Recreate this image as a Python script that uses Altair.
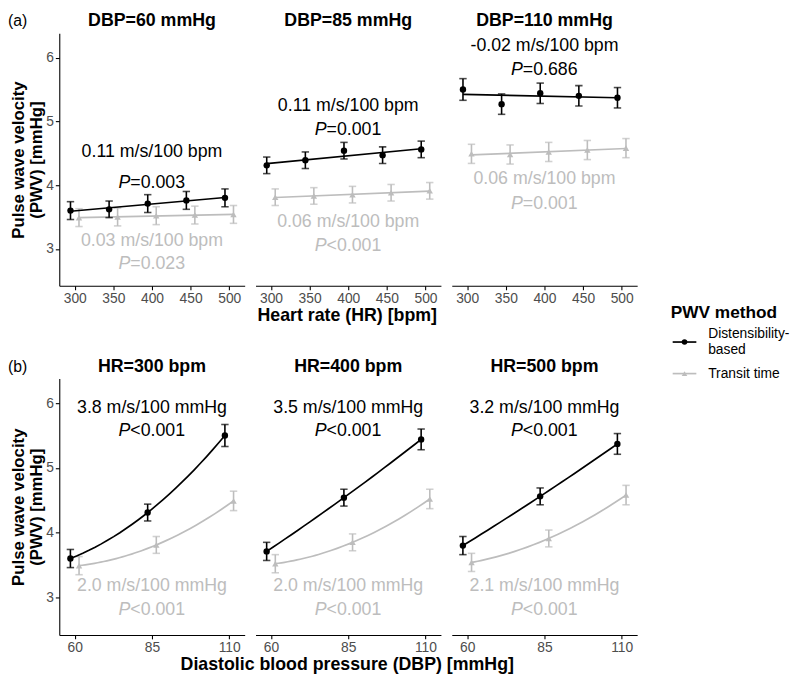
import altair as alt
import pandas as pd

HR = [300, 350, 400, 450, 500]
DBP = [60, 85, 110]
HR_PANELS = [300, 400, 500]
METHODS = ["Distensibility-based", "Transit time"]
COLORS = ["#000000", "#bdbdbd"]
SHAPES = ["circle", "triangle-up"]

# PWV means, rows = DBP (60, 85, 110), columns = HR (300..500)
dist_pwv = [[3.60, 3.62, 3.71, 3.76, 3.80],
            [4.31, 4.39, 4.54, 4.47, 4.56],
            [5.50, 5.27, 5.44, 5.40, 5.37]]
dist_err = [[0.14, 0.13, 0.14, 0.14, 0.14],
            [0.13, 0.13, 0.13, 0.13, 0.13],
            [0.17, 0.16, 0.16, 0.16, 0.16]]
tt_pwv = [[3.49, 3.50, 3.52, 3.53, 3.54],
          [3.81, 3.83, 3.85, 3.88, 3.91],
          [4.49, 4.48, 4.52, 4.55, 4.58]]
tt_err = [[0.14, 0.14, 0.14, 0.14, 0.14],
          [0.13, 0.13, 0.13, 0.13, 0.13],
          [0.15, 0.15, 0.15, 0.15, 0.15]]

# annotations, panel (a): one per DBP
a_dist_slope = ["0.11 m/s/100 bpm", "0.11 m/s/100 bpm", "-0.02 m/s/100 bpm"]
a_dist_p = ["=0.003", "=0.001", "=0.686"]
a_tt_slope = ["0.03 m/s/100 bpm", "0.06 m/s/100 bpm", "0.06 m/s/100 bpm"]
a_tt_p = ["=0.023", "<0.001", "=0.001"]
a_dist_y1 = [4.52, 5.24, 6.18]
a_dist_y2 = [4.03, 4.86, 5.80]
a_tt_y1 = [3.12, 3.42, 4.09]
a_tt_y2 = [2.76, 3.05, 3.71]
# annotations, panel (b): one per HR
b_dist_slope = ["3.8 m/s/100 mmHg", "3.5 m/s/100 mmHg", "3.2 m/s/100 mmHg"]
b_dist_p = ["<0.001", "<0.001", "<0.001"]
b_tt_slope = ["2.0 m/s/100 mmHg", "2.0 m/s/100 mmHg", "2.1 m/s/100 mmHg"]
b_tt_p = ["<0.001", "<0.001", "<0.001"]
b_dist_y1 = [5.92, 5.92, 5.92]
b_dist_y2 = [5.57, 5.57, 5.57]
b_tt_y1 = [3.18, 3.18, 3.18]
b_tt_y2 = [2.81, 2.81, 2.81]

FONT = "Liberation Sans"
ANN_SIZE = 18
TITLE_SIZE = 18

rows = []
for i, d in enumerate(DBP):
    for j, h in enumerate(HR):
        rows.append(dict(hr=h, dbp=d, method=METHODS[0], pwv=dist_pwv[i][j], err=dist_err[i][j]))
        rows.append(dict(hr=h, dbp=d, method=METHODS[1], pwv=tt_pwv[i][j], err=tt_err[i][j]))
df = pd.DataFrame(rows)

trows = []
for i, d in enumerate(DBP):
    trows.append(dict(row="a", key=d, method=METHODS[0], slope=a_dist_slope[i], p=a_dist_p[i], y1=a_dist_y1[i], y2=a_dist_y2[i], xc=400))
    trows.append(dict(row="a", key=d, method=METHODS[1], slope=a_tt_slope[i], p=a_tt_p[i], y1=a_tt_y1[i], y2=a_tt_y2[i], xc=400))
for i, h in enumerate(HR_PANELS):
    trows.append(dict(row="b", key=h, method=METHODS[0], slope=b_dist_slope[i], p=b_dist_p[i], y1=b_dist_y1[i], y2=b_dist_y2[i], xc=85))
    trows.append(dict(row="b", key=h, method=METHODS[1], slope=b_tt_slope[i], p=b_tt_p[i], y1=b_tt_y1[i], y2=b_tt_y2[i], xc=85))
tdf = pd.DataFrame(trows)

YSCALE = alt.Scale(domain=[2.42, 6.38], nice=False, zero=False)
W = 188


def panel(row, key, title, first, tag):
    if row == "a":
        xf, dodge, dom, ticks, h = "hr", 5.5, [280, 520], HR, 256
        filt = alt.datum.dbp == key
    else:
        xf, dodge, dom, ticks, h = "dbp", 1.4, [55, 115], DBP, 260
        filt = alt.datum.hr == key
    xaxis = alt.Axis(values=ticks, title=None, grid=False)
    yaxis = alt.Axis(values=[3, 4, 5, 6], grid=False,
                     title=["Pulse wave velocity", "(PWV) [mmHg]"]) if first else None
    xs = alt.Scale(domain=dom, nice=False, zero=False)

    base = alt.Chart(df).transform_filter(filt).transform_calculate(
        xd=f"datum.{xf} + (datum.method == 'Transit time' ? {dodge} : -{dodge})",
        lo="datum.pwv - datum.err",
        hi="datum.pwv + datum.err",
    )

    def X():
        return alt.X("xd:Q", scale=xs, axis=xaxis)

    def Y(f):
        return alt.Y(f + ":Q", scale=YSCALE, axis=yaxis)

    layers = []
    for m, c, s in [(METHODS[1], COLORS[1], SHAPES[1]), (METHODS[0], COLORS[0], SHAPES[0])]:
        b = base.transform_filter(alt.datum.method == m)
        if row == "a":
            reg = b.transform_regression(on="xd", regression="pwv", method="linear")
        else:
            reg = b.transform_regression(on="xd", regression="pwv", method="poly", order=2)
        layers.append(reg.mark_line(color=c, strokeWidth=1.7).encode(x=X(), y=Y("pwv")))
        layers.append(b.mark_rule(color=c, strokeWidth=1.6).encode(x=X(), y=Y("lo"), y2="hi:Q"))
        layers.append(b.mark_tick(color=c, orient="horizontal", size=7.5, thickness=1.6).encode(x=X(), y=Y("lo")))
        layers.append(b.mark_tick(color=c, orient="horizontal", size=7.5, thickness=1.6).encode(x=X(), y=Y("hi")))
        layers.append(b.mark_point(filled=True, shape=s, size=42, color=c, opacity=1).encode(x=X(), y=Y("pwv")))

    t = alt.Chart(tdf).transform_filter((alt.datum.row == row) & (alt.datum.key == key))
    tcol = alt.Color("method:N", scale=alt.Scale(domain=METHODS, range=COLORS), legend=None)
    layers.append(t.mark_text(fontSize=ANN_SIZE, font=FONT, baseline="middle", align="center").encode(
        x=alt.X("xc:Q", scale=xs, axis=xaxis), y=Y("y1"), text="slope:N", color=tcol))
    layers.append(t.mark_text(fontSize=ANN_SIZE, font=FONT, baseline="middle", align="right", dx=-22,
                              fontStyle="italic", text="P").encode(
        x=alt.X("xc:Q", scale=xs, axis=xaxis), y=Y("y2"), color=tcol))
    layers.append(t.mark_text(fontSize=ANN_SIZE, font=FONT, baseline="middle", align="left", dx=-22).encode(
        x=alt.X("xc:Q", scale=xs, axis=xaxis), y=Y("y2"), text="p:N", color=tcol))

    hdr = pd.DataFrame({"t": [title]})
    layers.append(alt.Chart(hdr).mark_text(
        fontSize=TITLE_SIZE, font=FONT, fontWeight="bold", align="center", baseline="middle",
        color="#000000").encode(x=alt.value(W / 2), y=alt.value(-12), text="t:N"))
    if tag:
        layers.append(alt.Chart(pd.DataFrame({"t": [tag]})).mark_text(
            fontSize=16, font=FONT, align="left", baseline="middle", color="#000000").encode(
            x=alt.value(-52), y=alt.value(-12), text="t:N"))

    return alt.layer(*layers).properties(width=W, height=h)


row_a = alt.hconcat(
    *[panel("a", d, f"DBP={d} mmHg", i == 0, "(a)" if i == 0 else None) for i, d in enumerate(DBP)],
    spacing=11,
    title=alt.TitleParams("Heart rate (HR) [bpm]", orient="bottom", anchor="middle", fontSize=TITLE_SIZE,
                          fontWeight="bold", font=FONT, color="#000000", offset=2, dx=25),
)
row_b = alt.hconcat(
    *[panel("b", h, f"HR={h} bpm", i == 0, "(b)" if i == 0 else None) for i, h in enumerate(HR_PANELS)],
    spacing=11,
    title=alt.TitleParams("Diastolic blood pressure (DBP) [mmHg]", orient="bottom", anchor="middle",
                          fontSize=TITLE_SIZE, fontWeight="bold", font=FONT, color="#000000", offset=2, dx=25),
)
main = alt.vconcat(row_a, row_b, spacing=33)

leg_df = pd.DataFrame({"method": METHODS, "label": ["Distensibility-\nbased", "Transit time"]})
ly = alt.Y("method:N", sort=METHODS, scale=alt.Scale(type="point", range=[15, 47], padding=0), axis=None)
lc = alt.Color("method:N", scale=alt.Scale(domain=METHODS, range=COLORS), legend=None)
lb = alt.Chart(leg_df)
legend = alt.layer(
    lb.mark_rule(strokeWidth=1.7).encode(x=alt.value(2), x2=alt.value(26), y=ly, color=lc),
    lb.mark_point(filled=True, size=32, opacity=1).encode(
        x=alt.value(14), y=ly, color=lc,
        shape=alt.Shape("method:N", scale=alt.Scale(domain=METHODS, range=SHAPES), legend=None)),
    lb.transform_filter(alt.datum.method == METHODS[0]).mark_text(
        align="left", baseline="middle", fontSize=14, font=FONT, lineBreak="\n",
        lineHeight=16, color="#000000", dy=-8).encode(x=alt.value(38), y=ly, text="label:N"),
    lb.transform_filter(alt.datum.method == METHODS[1]).mark_text(
        align="left", baseline="middle", fontSize=14, font=FONT,
        color="#000000").encode(x=alt.value(38), y=ly, text="label:N"),
).properties(width=100, height=54,
             title=alt.TitleParams("PWV method", fontSize=17.5, fontWeight="bold", font=FONT,
                                   color="#000000", anchor="start", offset=6))

chart = alt.hconcat(main, legend, spacing=34, center=True).properties(
    padding={"left": 0, "top": 0, "right": 2, "bottom": 2}
).configure(font=FONT).configure_view(stroke=None).configure_axis(
    domainColor="#000000", domainWidth=1.1, tickColor="#000000", tickWidth=1.1, tickSize=4,
    labelColor="#4d4d4d", labelFontSize=14, labelFont=FONT, labelPadding=2,
    titleFont=FONT, titleFontSize=17, titleFontWeight="bold", titleColor="#000000",
    titleLineHeight=18, titlePadding=0,
)

chart.save("out.html", embed_options={"renderer": "svg", "actions": False})
